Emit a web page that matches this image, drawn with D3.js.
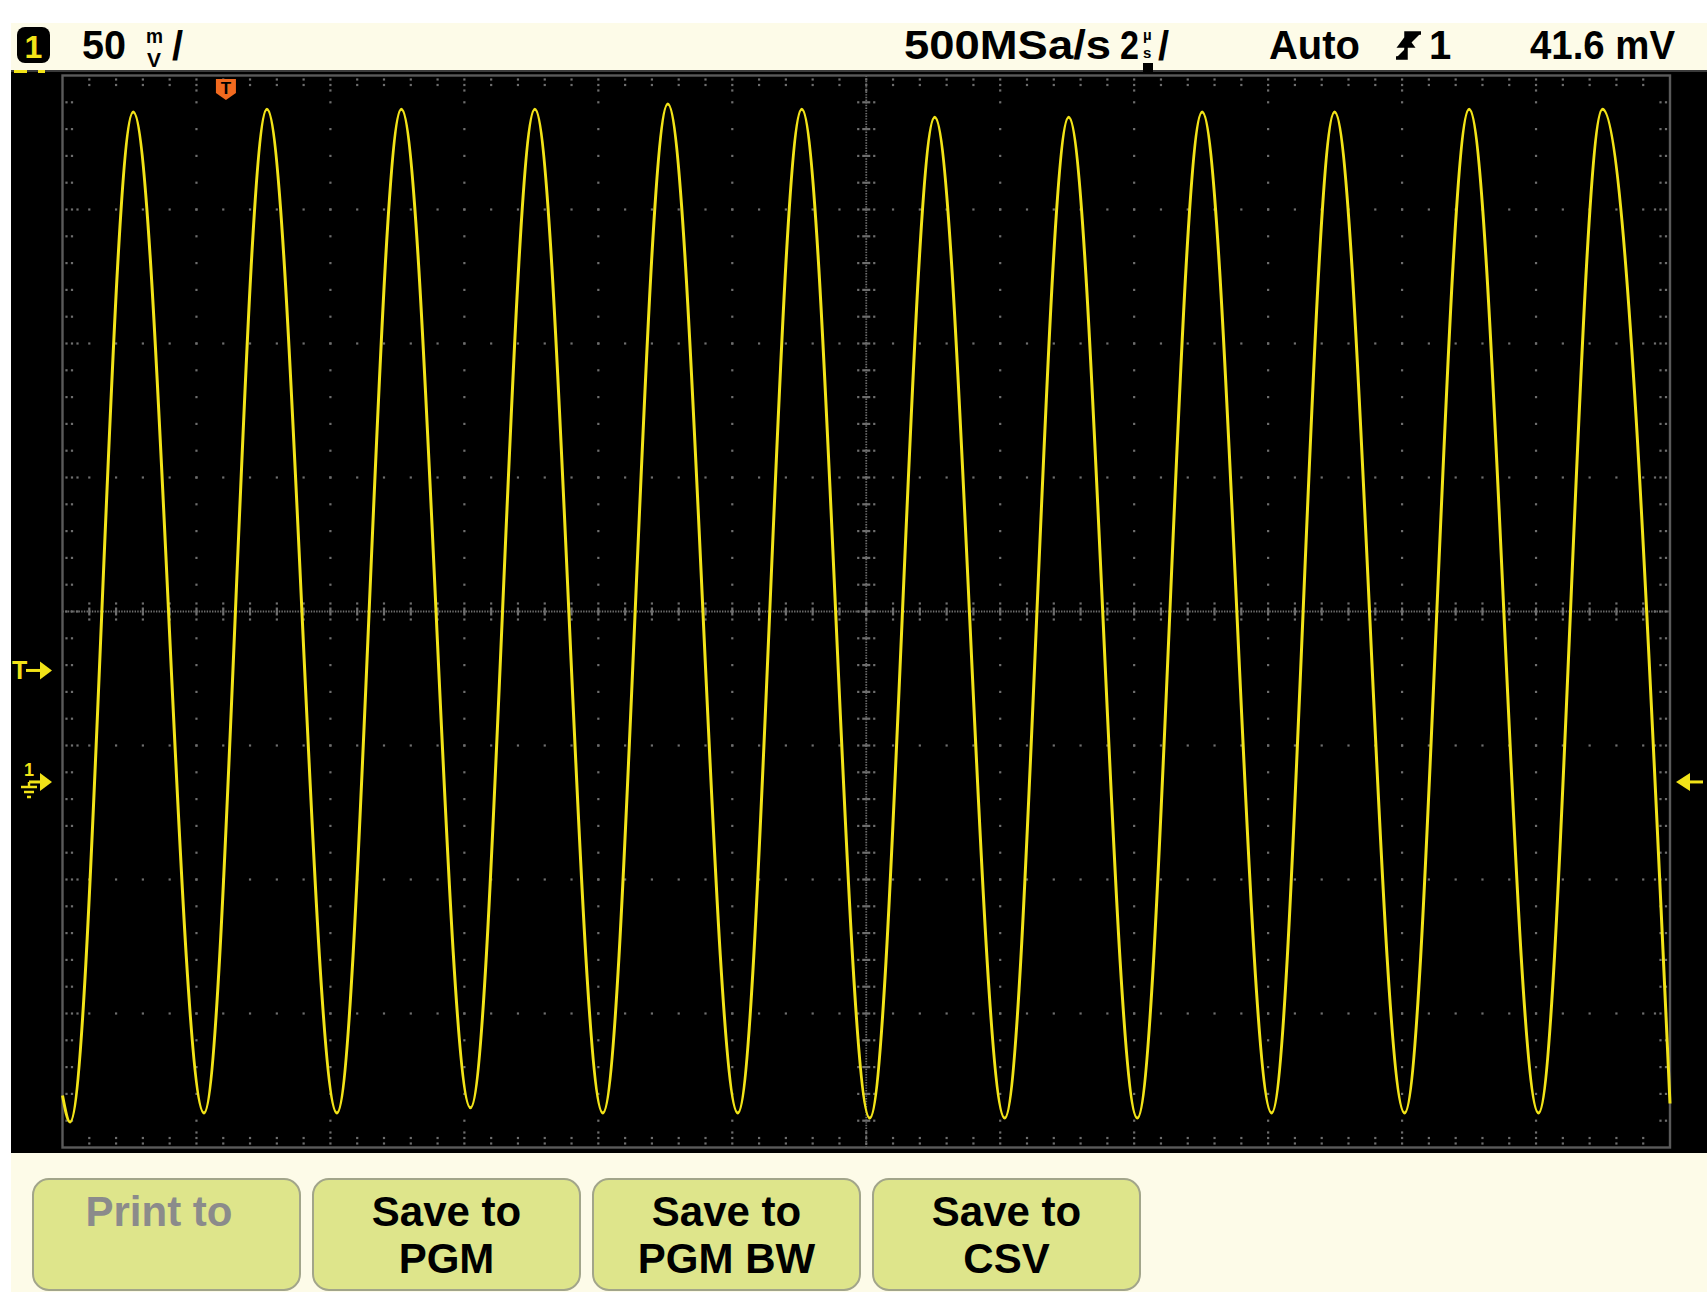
<!DOCTYPE html>
<html>
<head>
<meta charset="utf-8">
<script src="https://cdn.jsdelivr.net/npm/d3@7"></script>
<style>
    body { margin: 0; background: #fff; }
    text { font-family: "Liberation Sans", Arial, sans-serif; font-weight: bold; }
</style>
</head>
<body>
<svg id="scope" width="1707" height="1292"></svg>
<script>
// trace extremes (time in us, level in mV)
var peakTimes = [-1.384, 0.612, 2.619, 4.612, 6.597, 8.597, 10.582, 12.582, 14.575, 16.552, 18.561, 20.552];
var peakLevels = [250, 251, 251, 251, 253, 251, 248, 248, 250, 250, 251, 251];
var troughTimes = [-2.328, -0.328, 1.657, 3.651, 5.627, 7.642, 9.612, 11.627, 13.607, 15.612, 17.597, 19.597];
var troughLevels = [-126.9, -123.5, -123.5, -121.6, -123.5, -123.5, -125.4, -125.4, -125.4, -123.5, -123.5, -123.5];
// where the trace enters / leaves the graticule
var edgeTimes = [-2.44, 21.56];
var edgeLevels = [-117, -120];

// scope settings
var voltsPerDiv = 50, timePerDiv = 2;
var divsX = 12, divsY = 8;
var screenCentreLevel = 63.6, screenCentreTime = 9.56;
var groundLevel = 0, triggerLevel = 41.6, triggerTime = 0;

var softkeyTop = ["Print to", "Save to", "Save to", "Save to"];
var softkeyBottom = ["", "PGM", "PGM BW", "CSV"];
var softkeyEnabled = [false, true, true, true];

var svg = d3.select("#scope");
var gx = [62.5, 1670], gy = [75.5, 1147.5];

var x = d3.scaleLinear()
    .domain([screenCentreTime - divsX / 2 * timePerDiv, screenCentreTime + divsX / 2 * timePerDiv])
    .range(gx);
var y = d3.scaleLinear()
    .domain([screenCentreLevel - divsY / 2 * voltsPerDiv, screenCentreLevel + divsY / 2 * voltsPerDiv])
    .range([gy[1], gy[0]]);

var cream = "#fdfbe8", yellow = "#f2e318", dotCol = "#6e6e6e";

// panels
svg.append("rect").attr("x", 11).attr("y", 23).attr("width", 1696).attr("height", 47).attr("fill", cream);
svg.append("rect").attr("x", 11).attr("y", 70).attr("width", 1696).attr("height", 1083).attr("fill", "#000");
svg.append("rect").attr("x", 11).attr("y", 1153).attr("width", 1696).attr("height", 139).attr("fill", cream);
svg.append("line").attr("x1", 11).attr("x2", 1707).attr("y1", 71).attr("y2", 71)
    .attr("stroke", "#3a3a3a").attr("stroke-width", 2);

// graticule
var t0 = x.domain()[0], v0 = y.domain()[0];
var minorT = d3.range(0, divsX * 5 + 1).map(function(i) { return t0 + i * timePerDiv / 5; });
var minorV = d3.range(0, divsY * 5 + 1).map(function(i) { return v0 + i * voltsPerDiv / 5; });
var dots = [];
d3.range(1, divsX).forEach(function(i) {
    if (i == divsX / 2) return;
    minorV.slice(1, -1).forEach(function(v) { dots.push([x(t0 + i * timePerDiv), y(v)]); });
});
d3.range(1, divsY).forEach(function(k) {
    if (k == divsY / 2) return;
    minorT.slice(1, -1).forEach(function(t) { dots.push([x(t), y(v0 + k * voltsPerDiv)]); });
});
// border ticks
minorT.slice(1, -1).forEach(function(t, i) {
    var offs = (i + 1) % 5 == 0 ? [4, 9.5, 15] : [4, 9.5];
    offs.forEach(function(o) {
        dots.push([x(t), gy[0] + o]);
        dots.push([x(t), gy[1] - o]);
    });
});
minorV.slice(1, -1).forEach(function(v, i) {
    var offs = (i + 1) % 5 == 0 ? [4, 9.5, 15] : [4, 9.5];
    offs.forEach(function(o) {
        dots.push([gx[0] + o, y(v)]);
        dots.push([gx[1] - o, y(v)]);
    });
});
var cx = x(screenCentreTime), cy = y(screenCentreLevel);
// centre line ticks
minorV.slice(1, -1).forEach(function(v) {
    dots.push([cx - 8, y(v)]); dots.push([cx + 8, y(v)]);
});
minorT.slice(1, -1).forEach(function(t) {
    dots.push([x(t), cy - 8]); dots.push([x(t), cy + 8]);
});

var grat = svg.append("g");
grat.selectAll("rect.dot").data(dots).join("rect").attr("class", "dot")
    .attr("x", function(d) { return d[0] - 1.1; })
    .attr("y", function(d) { return d[1] - 1.1; })
    .attr("width", 2.2).attr("height", 2.2).attr("fill", dotCol);

grat.append("line").attr("x1", cx).attr("x2", cx).attr("y1", gy[0]).attr("y2", gy[1])
    .attr("stroke", dotCol).attr("stroke-width", 1.8).attr("stroke-dasharray", "1.4 1.27");
grat.append("line").attr("x1", gx[0]).attr("x2", gx[1]).attr("y1", cy).attr("y2", cy)
    .attr("stroke", dotCol).attr("stroke-width", 1.8).attr("stroke-dasharray", "1.4 1.27");
grat.selectAll("rect.hbar").data(minorV.slice(1, -1)).join("rect").attr("class", "hbar")
    .attr("x", cx - 4).attr("y", function(v) { return y(v) - 1.1; })
    .attr("width", 8).attr("height", 2.2).attr("fill", dotCol);
grat.selectAll("rect.vbar").data(minorT.slice(1, -1)).join("rect").attr("class", "vbar")
    .attr("x", function(t) { return x(t) - 1.1; }).attr("y", cy - 4)
    .attr("width", 2.2).attr("height", 8).attr("fill", dotCol);

grat.append("rect").attr("x", gx[0]).attr("y", gy[0])
    .attr("width", gx[1] - gx[0]).attr("height", gy[1] - gy[0])
    .attr("fill", "none").attr("stroke", "#5a5a5a").attr("stroke-width", 2.4);

// trace
var pts = [{t: edgeTimes[0], v: edgeLevels[0]}, {t: edgeTimes[1], v: edgeLevels[1]}];
peakTimes.forEach(function(t, i) { pts.push({t: t, v: peakLevels[i]}); });
troughTimes.forEach(function(t, i) { pts.push({t: t, v: troughLevels[i]}); });
pts.sort(function(a, b) { return a.t - b.t; });

var line = d3.line()
    .x(function(d) { return x(d.t); })
    .y(function(d) { return y(d.v); })
    .curve(d3.curveMonotoneX);

svg.append("path").datum(pts)
    .attr("fill", "none")
    .attr("stroke", yellow)
    .attr("stroke-width", 3)
    .attr("stroke-linejoin", "round")
    .attr("d", line);

// trigger position marker (top)
var tx = x(triggerTime);
svg.append("path")
    .attr("d", "M" + (tx - 10) + ",79H" + (tx + 10) + "V93L" + tx + ",100L" + (tx - 10) + ",93Z")
    .attr("fill", "#f26a1f");
svg.append("text").attr("x", tx).attr("y", 94).attr("text-anchor", "middle")
    .attr("font-size", 17).attr("fill", "#000").text("T");

// trigger level marker (left)
var ty = y(triggerLevel);
svg.append("text").attr("x", 12).attr("y", ty + 9).attr("font-size", 25).attr("fill", yellow).text("T");
svg.append("line").attr("x1", 26).attr("x2", 42).attr("y1", ty).attr("y2", ty)
    .attr("stroke", yellow).attr("stroke-width", 3);
svg.append("path").attr("d", "M52," + ty + "L40," + (ty - 9) + "V" + (ty + 9) + "Z").attr("fill", yellow);

// ground marker (left)
var g0 = y(groundLevel);
svg.append("text").attr("x", 24).attr("y", g0 - 6).attr("font-size", 18).attr("fill", yellow).text("1");
svg.append("line").attr("x1", 29).attr("x2", 42).attr("y1", g0).attr("y2", g0)
    .attr("stroke", yellow).attr("stroke-width", 3);
svg.append("path").attr("d", "M52," + g0 + "L40," + (g0 - 9) + "V" + (g0 + 9) + "Z").attr("fill", yellow);
svg.append("path")
    .attr("d", "M29," + g0 + "V" + (g0 + 5) + "M21," + (g0 + 5) + "H37M24," + (g0 + 10) + "H34M27," + (g0 + 15) + "H31")
    .attr("stroke", yellow).attr("stroke-width", 2.4).attr("fill", "none");

// ground marker (right)
svg.append("path").attr("d", "M1676," + g0 + "L1690," + (g0 - 9) + "V" + (g0 + 9) + "Z").attr("fill", yellow);
svg.append("line").attr("x1", 1686).attr("x2", 1703).attr("y1", g0).attr("y2", g0)
    .attr("stroke", yellow).attr("stroke-width", 3);

// small channel marks under the badge
svg.append("rect").attr("x", 14).attr("y", 70).attr("width", 13).attr("height", 3).attr("fill", yellow);
svg.append("rect").attr("x", 38).attr("y", 70).attr("width", 7).attr("height", 3).attr("fill", yellow);

// header line
var hdr = svg.append("g");
hdr.append("rect").attr("x", 17).attr("y", 27).attr("width", 33).attr("height", 36).attr("rx", 8).attr("fill", "#000");
hdr.append("text").attr("x", 33.5).attr("y", 58).attr("text-anchor", "middle")
    .attr("font-size", 32).attr("fill", yellow).text("1");
hdr.append("text").attr("x", 82).attr("y", 59).attr("font-size", 40)
    .attr("textLength", 44).attr("lengthAdjust", "spacingAndGlyphs").text(voltsPerDiv);
hdr.append("text").attr("x", 146).attr("y", 43).attr("font-size", 21)
    .attr("textLength", 17).attr("lengthAdjust", "spacingAndGlyphs").text("m");
hdr.append("text").attr("x", 147).attr("y", 67).attr("font-size", 21)
    .attr("textLength", 14).attr("lengthAdjust", "spacingAndGlyphs").text("V");
hdr.append("text").attr("x", 172).attr("y", 60).attr("font-size", 40).text("/");

hdr.append("text").attr("x", 904).attr("y", 59).attr("font-size", 40)
    .attr("textLength", 207).attr("lengthAdjust", "spacingAndGlyphs").text("500MSa/s");
hdr.append("text").attr("x", 1120).attr("y", 59).attr("font-size", 40)
    .attr("textLength", 19).attr("lengthAdjust", "spacingAndGlyphs").text(timePerDiv);
hdr.append("text").attr("x", 1143).attr("y", 40).attr("font-size", 15).text("µ");
hdr.append("text").attr("x", 1143).attr("y", 58).attr("font-size", 15).text("s");
hdr.append("rect").attr("x", 1143).attr("y", 63).attr("width", 10).attr("height", 9).attr("fill", "#000");
hdr.append("text").attr("x", 1158).attr("y", 60).attr("font-size", 40).text("/");

hdr.append("text").attr("x", 1269).attr("y", 59).attr("font-size", 40)
    .attr("textLength", 91).attr("lengthAdjust", "spacingAndGlyphs").text("Auto");
hdr.append("path").attr("d", "M1396,58H1406V33H1421M1400,46L1406,38L1412,46Z")
    .attr("stroke", "#000").attr("stroke-width", 3.5).attr("fill", "#000");
hdr.append("text").attr("x", 1429).attr("y", 59).attr("font-size", 40).text("1");
hdr.append("text").attr("x", 1530).attr("y", 59).attr("font-size", 40)
    .attr("textLength", 145).attr("lengthAdjust", "spacingAndGlyphs").text(triggerLevel + " mV");

// softkeys
var keys = svg.selectAll("g.key").data(softkeyTop).join("g").attr("class", "key")
    .attr("transform", function(d, i) { return "translate(" + (33 + i * 280) + ",1179)"; });
keys.append("rect").attr("width", 267).attr("height", 111).attr("rx", 16)
    .attr("fill", "#dee58b").attr("stroke", "#a2a58a").attr("stroke-width", 2);
keys.append("text").attr("x", function(d, i) { return softkeyEnabled[i] ? 133.5 : 126; })
    .attr("y", 47).attr("text-anchor", "middle").attr("font-size", 42)
    .attr("fill", function(d, i) { return softkeyEnabled[i] ? "#000" : "#8b8b8b"; })
    .text(function(d) { return d; });
keys.append("text").attr("x", 133.5).attr("y", 94).attr("text-anchor", "middle").attr("font-size", 42)
    .text(function(d, i) { return softkeyBottom[i]; });
</script>
</body>
</html>
